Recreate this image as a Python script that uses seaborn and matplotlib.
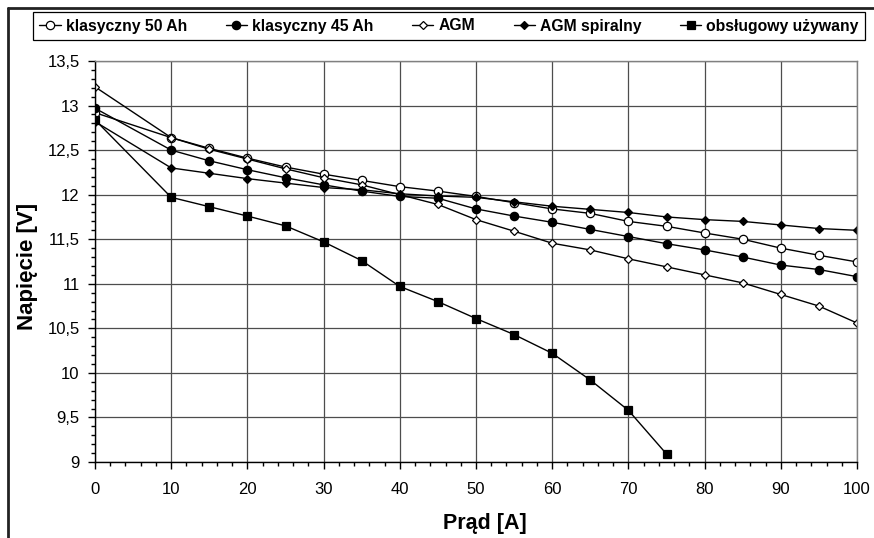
import numpy as np
import pandas as pd
import seaborn as sns
import matplotlib
matplotlib.use("Agg")
import matplotlib.pyplot as plt
from matplotlib.ticker import MultipleLocator, FuncFormatter
from matplotlib.lines import Line2D

# ---- data ----
current = [0, 10, 15, 20, 25, 30, 35, 40, 45, 50, 55, 60, 65, 70, 75, 80, 85, 90, 95, 100]
klasyczny_50 = [12.92, 12.64, 12.52, 12.41, 12.31, 12.23, 12.16, 12.09, 12.04, 11.98,
                11.91, 11.84, 11.79, 11.70, 11.645, 11.57, 11.50, 11.40, 11.32, 11.245]
klasyczny_45 = [12.97, 12.50, 12.38, 12.28, 12.19, 12.11, 12.04, 11.98, 11.96, 11.84,
                11.76, 11.69, 11.61, 11.53, 11.45, 11.38, 11.30, 11.21, 11.16, 11.08]
agm = [13.21, 12.64, 12.51, 12.40, 12.29, 12.19, 12.11, 12.00, 11.89, 11.72,
       11.59, 11.455, 11.38, 11.28, 11.19, 11.10, 11.01, 10.88, 10.75, 10.56]
agm_spiralny = [12.82, 12.30, 12.24, 12.18, 12.13, 12.08, 12.055, 12.01, 11.985, 11.97,
                11.92, 11.87, 11.835, 11.80, 11.75, 11.72, 11.70, 11.66, 11.62, 11.60]
current_used = [0, 10, 15, 20, 25, 30, 35, 40, 45, 50, 55, 60, 65, 70, 75]
obslugowy = [12.84, 11.97, 11.865, 11.76, 11.65, 11.47, 11.26, 10.97, 10.80, 10.61,
             10.43, 10.22, 9.92, 9.58, 9.09]

series_names = ["klasyczny 50 Ah", "klasyczny 45 Ah", "AGM", "AGM spiralny", "obsługowy używany"]
x_label = "Prąd [A]"
y_label = "Napięcie [V]"

sns.set_theme(style="white")
plt.rcParams['font.family'] = ['Liberation Sans', 'DejaVu Sans']
plt.rcParams['text.color'] = 'black'
plt.rcParams['xtick.color'] = 'black'
plt.rcParams['ytick.color'] = 'black'
plt.rcParams['axes.labelcolor'] = 'black'

fig = plt.figure(figsize=(8.74, 5.38), dpi=100)
ax = fig.add_axes([95/874, 1-462/538, (857-95)/874, (462-61)/538])

styles = [
    (current, klasyczny_50, dict(marker='o', markersize=6, markerfacecolor='white')),
    (current, klasyczny_45, dict(marker='o', markersize=6, markerfacecolor='black')),
    (current, agm, dict(marker='D', markersize=4.5, markerfacecolor='white')),
    (current, agm_spiralny, dict(marker='D', markersize=4.5, markerfacecolor='black')),
    (current_used, obslugowy, dict(marker='s', markersize=6, markerfacecolor='black')),
]
handles = []
for (xs, ys, st), name in zip(styles, series_names):
    df = pd.DataFrame({"x": xs, "y": ys})
    sns.lineplot(data=df, x="x", y="y", ax=ax, color='black', linewidth=1,
                 markeredgecolor='black', markeredgewidth=0.9, **st)
    handles.append(Line2D([], [], color='black', linewidth=1, markeredgecolor='black',
                          markeredgewidth=0.9, **st))

ax.set_xlim(0, 100)
ax.set_ylim(9, 13.5)
ax.xaxis.set_major_locator(MultipleLocator(10))
ax.xaxis.set_minor_locator(MultipleLocator(2))
ax.yaxis.set_major_locator(MultipleLocator(0.5))
ax.yaxis.set_minor_locator(MultipleLocator(0.1))
ax.yaxis.set_major_formatter(FuncFormatter(lambda v, p: ('%g' % v).replace('.', ',')))
ax.grid(True, which='major', color='#4d4d4d', linewidth=0.9)
ax.set_axisbelow(True)
ax.tick_params(which='major', direction='out', length=5, width=1, color='black',
               labelsize=12, left=True, bottom=True)
ax.tick_params(which='minor', direction='out', length=3, width=1, color='black',
               left=True, bottom=True)
ax.tick_params(axis='x', which='major', pad=9.5)
ax.tick_params(axis='y', which='major', pad=6)
for s in ['top', 'right']:
    ax.spines[s].set_color('#808080')
    ax.spines[s].set_linewidth(1)
for s in ['left', 'bottom']:
    ax.spines[s].set_color('black')
    ax.spines[s].set_linewidth(1)

ax.set_xlabel("")
ax.set_ylabel("")
fig.text(485/874, 1-523/538, x_label, fontsize=15.5, fontweight='bold',
         ha='center', va='center', color='black')
fig.text(27/874, 1-266/538, y_label, fontsize=16, fontweight='bold', rotation=90,
         ha='center', va='center', color='black')

leg = fig.legend(handles, series_names, loc='center', bbox_to_anchor=(449/874, 1-26/538),
                 ncol=5, frameon=True, fancybox=False, edgecolor='black', framealpha=1,
                 prop={'weight': 'bold', 'size': 11.3}, handlelength=1.35, handletextpad=0.32,
                 columnspacing=2.47, borderpad=0.43, borderaxespad=0)
leg.get_frame().set_linewidth(0.9)
for t in leg.get_texts():
    t.set_color('black')

# outer frame lines (cropped chart border)
fig.add_artist(Line2D([8/874, 1], [1-8/538, 1-8/538], color='#222222', linewidth=2,
                      transform=fig.transFigure))
fig.add_artist(Line2D([8/874, 8/874], [0, 1-8/538], color='#222222', linewidth=2,
                      transform=fig.transFigure))

fig.savefig("out.png", dpi=100)
